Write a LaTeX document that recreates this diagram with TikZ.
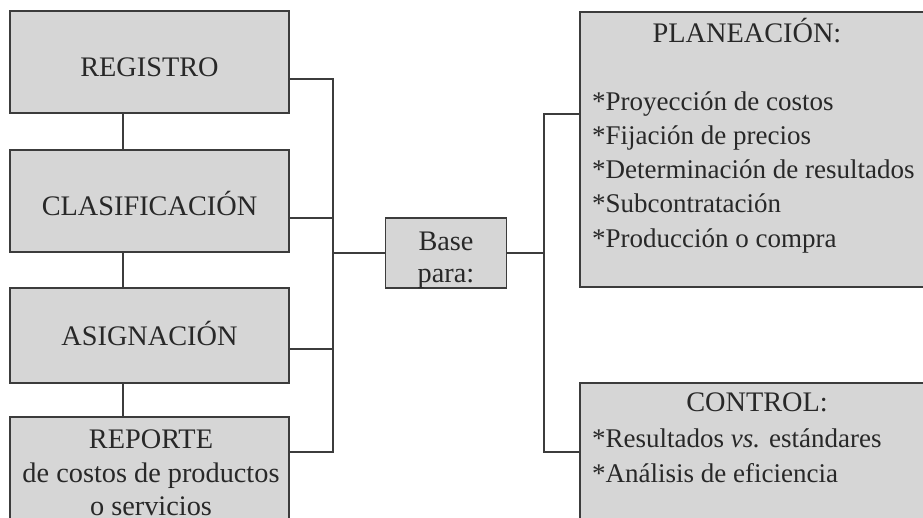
\documentclass[tikz,border=0pt]{standalone}
\usepackage{fontspec}
\setmainfont{Liberation Serif}
\definecolor{boxgray}{RGB}{214,214,214}
\definecolor{linegray}{RGB}{60,60,60}
\definecolor{textgray}{RGB}{40,40,40}
\begin{document}
\begin{tikzpicture}[x=1pt,y=-1pt,
  box/.style={draw=linegray, line width=1.4pt, fill=boxgray, inner sep=0pt},
  conn/.style={draw=linegray, line width=1.4pt},
  txt/.style={text=textgray, inner sep=0pt, font=\fontsize{28.3}{34}\selectfont},
  lst/.style={text=textgray, inner sep=0pt, anchor=base west, font=\fontsize{27}{34.3}\selectfont}]
\useasboundingbox (0,0) rectangle (923,517);
\clip (0,0) rectangle (923,517);
% left column boxes
\node[box, minimum width=279pt, minimum height=102pt] (reg) at (149.5,62) {};
\node[box, minimum width=279pt, minimum height=102pt] (cla) at (149.5,201) {};
\node[box, minimum width=279pt, minimum height=95pt] (asi) at (149.5,335.5) {};
\node[box, minimum width=279pt, minimum height=123pt] (rep) at (149.5,478.5) {};
\node[txt, anchor=base] (regt) at (149.5,76) {REGISTRO};
\node[txt, anchor=base] (clat) at (149.5,215) {CLASIFICACIÓN};
\node[txt, anchor=base] (asit) at (149.5,345) {ASIGNACIÓN};
\node[txt, anchor=base] (rept) at (151,448)
  {\begin{tabular}[t]{@{}c@{}}REPORTE\\ de costos de productos\\[-1pt] o servicios\end{tabular}};
% vertical links
\draw[conn] ([xshift=-26.5pt]reg.south) -- ([xshift=-26.5pt]cla.north);
\draw[conn] ([xshift=-26.5pt]cla.south) -- ([xshift=-26.5pt]asi.north);
\draw[conn] ([xshift=-26.5pt]asi.south) -- ([xshift=-26.5pt]rep.north);
% centre box
\node[box, minimum width=121pt, minimum height=70pt] (base) at (446,253) {};
\node[txt, anchor=base] (baset) at (446,250)
  {\begin{tabular}[t]{@{}c@{}}Base\\[-2pt] para:\end{tabular}};
% right boxes
\node[box, minimum width=370pt, minimum height=275pt] (plan) at (765,149.5) {};
\node[box, minimum width=370pt, minimum height=157pt] (ctrl) at (765,461.5) {};
\node[txt, anchor=base] (plant) at (747,42) {PLANEACIÓN:};
\node[lst] (planl) at (592,110)
  {\begin{tabular}[t]{@{}l@{}}*Proyección de costos\\{}*Fijación de precios\\{}*Determinación de resultados\\{}*Subcontratación\\{}*Producción o compra\end{tabular}};
\node[txt, anchor=base] (ctrlt) at (757,411) {CONTROL:};
\node[lst] (ctrll) at (592,447)
  {\begin{tabular}[t]{@{}l@{}}*Resultados \textit{vs.} estándares\\[1pt]{}*Análisis de eficiencia\end{tabular}};
% bracket connectors
\coordinate (t1) at (333,79);
\coordinate (t2) at (333,218);
\coordinate (t3) at (333,349);
\coordinate (t4) at (333,452);
\coordinate (tm) at (333,253);
\draw[conn] (reg.east |- t1) -- (t1) -- (t4) -- (rep.east |- t4);
\draw[conn] (cla.east |- t2) -- (t2);
\draw[conn] (asi.east |- t3) -- (t3);
\draw[conn] (tm) -- (base.west);
\coordinate (u1) at (544,114);
\coordinate (u2) at (544,452);
\coordinate (um) at (544,253);
\draw[conn] (base.east) -- (um);
\draw[conn] (plan.west |- u1) -- (u1) -- (u2) -- (ctrl.west |- u2);
\end{tikzpicture}
\end{document}
